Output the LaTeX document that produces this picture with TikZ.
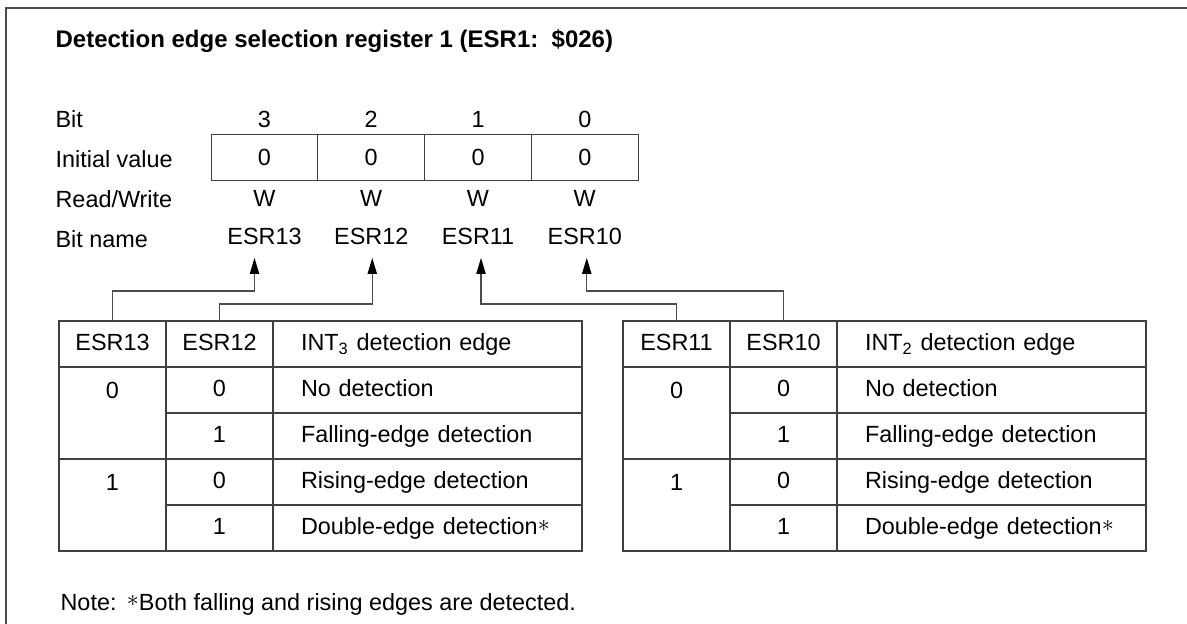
\documentclass[tikz,border=0pt]{standalone}
\usepackage{fontspec}
\setmainfont{Liberation Sans}
\usetikzlibrary{arrows.meta,positioning}

\newcommand{\footast}{\raisebox{1.8pt}{$\ast$}}

\begin{document}
\begin{tikzpicture}[x=0.5pt,y=-0.5pt,>={Triangle[length=8pt,width=4.6pt,color=black]},
    font=\fontsize{11.7}{14}\selectfont,line width=0.6pt,
    lbl/.style={anchor=west,inner sep=0pt},
    reg cell/.style={draw=black!75,outer sep=0pt,inner sep=0pt,minimum width=53.375pt,minimum height=22.75pt},
    tab cell/.style={draw=black!75,outer sep=0pt,inner sep=0pt,minimum width=53.5pt,minimum height=23pt,text height=8.3pt,text depth=1.5pt},
    two cell/.style={tab cell,minimum height=46pt},
    desc cell/.style={tab cell,minimum width=154.5pt,text width=126.5pt,inner xsep=14pt,align=left},
    row val/.style={anchor=center,yshift=-11.5pt,inner sep=0pt},
    link/.style={draw=black!70,->}]

  \useasboundingbox (0,0) rectangle (1187,624);
  \draw[draw=black!70,line width=0.75pt] (6,624) -- (6,8) -- (1187,8);

  \node[lbl,font=\fontsize{12}{14}\selectfont\bfseries] (title) at (55,41) {Detection edge selection register 1 (ESR1:\ \ \$026)};

  % register
  \node[lbl] (bitlbl) at (55,119) {Bit};
  \node[lbl] (initlbl) at (55,159) {Initial value};
  \node[lbl] (rwlbl) at (55,199) {Read/Write};
  \node[lbl] (namelbl) at (55,239) {Bit name};

  \node[reg cell] (r3) at (264.5,157.5) {0};
  \node[reg cell] (r2) [right=0pt of r3] {0};
  \node[reg cell] (r1) [right=0pt of r2] {0};
  \node[reg cell] (r0) [right=0pt of r1] {0};

  \node (b3) [above=0pt of r3] {3};
  \node (b2) [above=0pt of r2] {2};
  \node (b1) [above=0pt of r1] {1};
  \node (b0) [above=0pt of r0] {0};

  \node (w3) [below=1.6pt of r3] {W};
  \node (w2) [below=1.6pt of r2] {W};
  \node (w1) [below=1.6pt of r1] {W};
  \node (w0) [below=1.6pt of r0] {W};

  \node (n13) [below=3.6pt of w3] {ESR13};
  \node (n12) [below=3.6pt of w2] {ESR12};
  \node (n11) [below=3.6pt of w1] {ESR11};
  \node (n10) [below=3.6pt of w0] {ESR10};

  % INT3 table
  \node[tab cell] (h13) at (112.5,344) {ESR13};
  \node[tab cell] (h12) [right=0pt of h13] {ESR12};
  \node[desc cell] (hl) [right=0pt of h12] {INT\textsubscript{3} detection edge};
  \node[two cell,label={[row val]north:0}] (m30) [below=0pt of h13] {};
  \node[two cell,label={[row val]north:1}] (m31) [below=0pt of m30] {};
  \node[tab cell] (p0) [below=0pt of h12] {0};
  \node[tab cell] (p1) [below=0pt of p0] {1};
  \node[tab cell] (p2) [below=0pt of p1] {0};
  \node[tab cell] (p3) [below=0pt of p2] {1};
  \node[desc cell] (q0) [below=0pt of hl] {No detection};
  \node[desc cell] (q1) [below=0pt of q0] {Falling-edge detection};
  \node[desc cell] (q2) [below=0pt of q1] {Rising-edge detection};
  \node[desc cell] (q3) [below=0pt of q2] {Double-edge detection\footast};

  % INT2 table
  \node[tab cell] (h11) at (676.5,344) {ESR11};
  \node[tab cell] (h10) [right=0pt of h11] {ESR10};
  \node[desc cell] (hr) [right=0pt of h10] {INT\textsubscript{2} detection edge};
  \node[two cell,label={[row val]north:0}] (m20) [below=0pt of h11] {};
  \node[two cell,label={[row val]north:1}] (m21) [below=0pt of m20] {};
  \node[tab cell] (s0) [below=0pt of h10] {0};
  \node[tab cell] (s1) [below=0pt of s0] {1};
  \node[tab cell] (s2) [below=0pt of s1] {0};
  \node[tab cell] (s3) [below=0pt of s2] {1};
  \node[desc cell] (t0) [below=0pt of hr] {No detection};
  \node[desc cell] (t1) [below=0pt of t0] {Falling-edge detection};
  \node[desc cell] (t2) [below=0pt of t1] {Rising-edge detection};
  \node[desc cell] (t3) [below=0pt of t2] {Double-edge detection\footast};

  \path[link] (h13.north) -- ++(0,-30) -| ([xshift=-5pt,yshift=-10.5pt]n13.center);
  \path[link] (h12.north) -- ++(0,-17) -| ([xshift=0.5pt,yshift=-10.5pt]n12.center);
  \path[link] (h11.north) -- ++(0,-17) -| ([xshift=1.5pt,yshift=-10.5pt]n11.center);
  \path[link] (h10.north) -- ++(0,-30) -| ([xshift=1pt,yshift=-10.5pt]n10.center);

  \node[lbl] (note) at (60,604) {Note:\ \,\footast Both falling and rising edges are detected.};

\end{tikzpicture}
\end{document}
